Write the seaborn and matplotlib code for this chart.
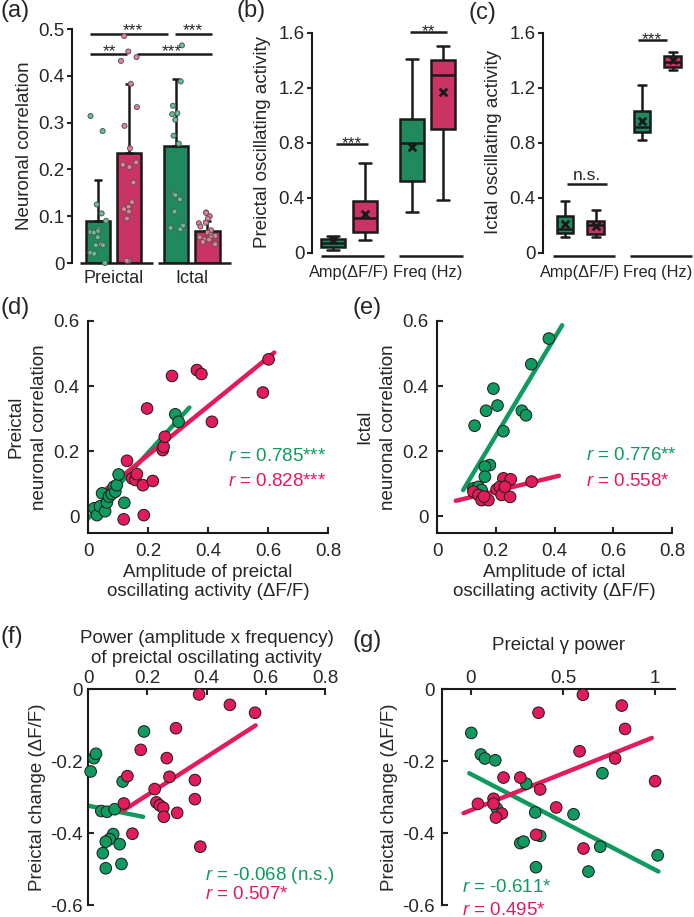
import numpy as np
import pandas as pd
import matplotlib
matplotlib.use('Agg')
import matplotlib.pyplot as plt
from matplotlib.ticker import FuncFormatter
import seaborn as sns

sns.set_style('ticks')
plt.rcParams['font.family'] = ['Liberation Sans', 'DejaVu Sans']
plt.rcParams['mathtext.fontset'] = 'custom'
plt.rcParams['mathtext.rm'] = 'Liberation Sans'
plt.rcParams['mathtext.it'] = 'Liberation Sans:italic'
plt.rcParams['axes.unicode_minus'] = False
plt.rcParams['font.size'] = 13.5

GREEN = '#0f9a60'
RED = '#e31b5b'
GREEN_DOT = '#5fc494'
RED_DOT = '#f07b96'
INK = '#1a1a1a'

groups = ['green', 'red']

# ---------------- (a) neuronal correlation
phases = ['Preictal', 'Ictal']
a_bar_phase = ['Preictal', 'Preictal', 'Ictal', 'Ictal']
a_bar_group = ['green', 'red', 'green', 'red']
a_mean = [0.090, 0.235, 0.250, 0.068]
a_sd = [0.087, 0.148, 0.143, 0.022]
a_pre_green = [0.314, 0.282, 0.125, 0.106, 0.090, 0.072, 0.068, 0.066, 0.065,
               0.055, 0.040, 0.038, 0.038, 0.022, 0.020, 0.0]
a_pre_red = [0.485, 0.452, 0.440, 0.432, 0.383, 0.333, 0.293, 0.245, 0.215, 0.210,
             0.205, 0.172, 0.130, 0.120, 0.115, 0.110, 0.095, 0.005, 0.005]
a_ict_green = [0.465, 0.388, 0.336, 0.320, 0.318, 0.306, 0.272, 0.255, 0.147,
               0.145, 0.136, 0.110, 0.080, 0.075, 0.072]
a_ict_red = [0.108, 0.107, 0.100, 0.095, 0.086, 0.085, 0.078, 0.070, 0.065, 0.060,
             0.058, 0.055, 0.055, 0.050, 0.050, 0.045, 0.042, 0.040]

# ---------------- (b) / (c) box summaries: whisker low, q1, median, q3, whisker high
measures = ['Amp(ΔF/F)', 'Freq (Hz)']
b_amp_green = [0.024, 0.044, 0.073, 0.100, 0.120]
b_amp_red = [0.097, 0.153, 0.255, 0.380, 0.655]
b_freq_green = [0.298, 0.521, 0.800, 0.977, 1.410]
b_freq_red = [0.388, 0.900, 1.297, 1.400, 1.503]
b_means = [0.097, 0.280, 0.768, 1.170]   # amp-green, amp-red, freq-green, freq-red

c_amp_green = [0.116, 0.145, 0.175, 0.270, 0.375]
c_amp_red = [0.114, 0.138, 0.200, 0.230, 0.310]
c_freq_green = [0.824, 0.882, 0.914, 1.035, 1.220]
c_freq_red = [1.330, 1.353, 1.390, 1.430, 1.460]
c_means = [0.213, 0.194, 0.962, 1.400]

# ---------------- (d) preictal amplitude vs correlation
d_green_x = [0.021, 0.030, 0.040, 0.047, 0.057, 0.063, 0.070, 0.079, 0.086, 0.091,
             0.096, 0.102, 0.121, 0.291, 0.302]
d_green_y = [0.024, 0.003, 0.030, 0.070, 0.015, 0.042, 0.060, 0.068, 0.090, 0.075,
             0.095, 0.128, 0.041, 0.313, 0.290]
d_red_x = [0.119, 0.130, 0.147, 0.158, 0.163, 0.183, 0.186, 0.216, 0.197, 0.249,
           0.252, 0.256, 0.280, 0.363, 0.378, 0.413, 0.583, 0.602]
d_red_y = [-0.010, 0.170, 0.116, 0.111, 0.129, 0.095, 0.003, 0.108, 0.331, 0.203,
           0.213, 0.244, 0.431, 0.449, 0.437, 0.290, 0.380, 0.482]
d_fit_green_x, d_fit_green_y = [-0.009, 0.338], [-0.017, 0.334]
d_fit_red_x, d_fit_red_y = [0.054, 0.621], [0.078, 0.503]

# ---------------- (e) ictal amplitude vs correlation
e_green_x = [0.381, 0.321, 0.192, 0.206, 0.167, 0.289, 0.303, 0.128, 0.226, 0.180,
             0.163, 0.163, 0.124, 0.141, 0.152]
e_green_y = [0.546, 0.467, 0.392, 0.340, 0.324, 0.324, 0.310, 0.278, 0.261, 0.157,
             0.152, 0.121, 0.085, 0.090, 0.080]
e_red_x = [0.322, 0.226, 0.251, 0.124, 0.141, 0.152, 0.175, 0.203, 0.214, 0.220,
           0.231, 0.249, 0.160]
e_red_y = [0.106, 0.116, 0.113, 0.075, 0.065, 0.049, 0.049, 0.082, 0.090, 0.065,
           0.090, 0.059, 0.060]
e_fit_green_x, e_fit_green_y = [0.089, 0.426], [0.080, 0.587]
e_fit_red_x, e_fit_red_y = [0.064, 0.415], [0.047, 0.124]

# ---------------- (f) preictal power vs preictal change
f_green_x = [0.009, 0.020, 0.027, 0.189, 0.117, 0.045, 0.064, 0.090, 0.085, 0.073,
             0.060, 0.050, 0.107, 0.060, 0.113]
f_green_y = [-0.229, -0.192, -0.180, -0.118, -0.257, -0.339, -0.341, -0.334, -0.403,
             -0.417, -0.424, -0.456, -0.431, -0.498, -0.486]
f_red_x = [0.375, 0.479, 0.564, 0.297, 0.178, 0.266, 0.275, 0.133, 0.225, 0.121,
           0.231, 0.242, 0.254, 0.256, 0.301, 0.361, 0.361, 0.150, 0.379]
f_red_y = [-0.015, -0.044, -0.066, -0.109, -0.169, -0.192, -0.244, -0.242, -0.278,
           -0.318, -0.315, -0.323, -0.330, -0.355, -0.344, -0.253, -0.306, -0.402, -0.438]
f_fit_green_x, f_fit_green_y = [0.0, 0.186], [-0.324, -0.355]
f_fit_red_x, f_fit_red_y = [0.118, 0.566], [-0.338, -0.101]

# ---------------- (g) preictal gamma power vs preictal change
g_green_x = [0.002, 0.054, 0.076, 0.132, 0.300, 0.141, 0.349, 0.376, 0.268, 0.286,
             0.353, 0.638, 0.702, 0.714, 0.557, 1.014]
g_green_y = [-0.122, -0.182, -0.193, -0.198, -0.263, -0.332, -0.343, -0.408, -0.428,
             -0.424, -0.495, -0.507, -0.438, -0.234, -0.348, -0.462]
g_red_x = [0.608, 0.819, 0.837, 0.367, 0.590, 0.783, 1.000, 0.177, 0.268, 0.376,
           0.463, 0.038, 0.123, 0.123, 0.168, 0.136, 0.354, 0.611]
g_red_y = [-0.016, -0.046, -0.111, -0.066, -0.173, -0.193, -0.256, -0.246, -0.246,
           -0.279, -0.329, -0.319, -0.305, -0.319, -0.346, -0.357, -0.405, -0.443]
g_fit_green_x, g_fit_green_y = [-0.009, 1.018], [-0.234, -0.507]
g_fit_red_x, g_fit_red_y = [-0.040, 0.982], [-0.345, -0.136]


W, H = 694, 917
fig = plt.figure(figsize=(W / 100, H / 100), dpi=100)


def add_ax(left, top, right, bottom):
    return fig.add_axes([left / W, 1 - bottom / H, (right - left) / W, (bottom - top) / H])


fmt = FuncFormatter(lambda v, p: '0' if abs(v) < 1e-9 else f'{v:g}')


def style_spines(ax):
    for s in ax.spines.values():
        s.set_linewidth(1.5)
        s.set_color(INK)


def sig(ax, x0, x1, y, text, tx, dy=-1):
    ax.plot([x0, x1], [y, y], color=INK, lw=1.8, clip_on=False, solid_capstyle='butt')
    ax.annotate(text, (tx, y), xytext=(0, dy), textcoords='offset points',
                ha='center', va='baseline', fontsize=12.5, annotation_clip=False)


# ======== (a)
ax = add_ax(72, 29, 237, 263)
bars = pd.DataFrame({'phase': a_bar_phase, 'group': a_bar_group, 'value': a_mean})
sns.barplot(data=bars, x='phase', y='value', hue='group', order=phases, hue_order=groups,
            palette=[GREEN, RED], width=0.8, gap=0.22, edgecolor=INK, linewidth=1.8,
            errorbar=None, legend=False, ax=ax)
rects = sorted(ax.patches, key=lambda r: r.get_x())
cx = [r.get_x() + r.get_width() / 2 for r in rects]
tops = [r.get_height() for r in rects]
ax.errorbar(cx, tops, yerr=[np.zeros(len(a_sd)), a_sd], fmt='none', ecolor=INK,
            elinewidth=1.8, capsize=3, capthick=1.8, zorder=2)

dot_sets = [('Preictal', 'green', a_pre_green), ('Preictal', 'red', a_pre_red),
            ('Ictal', 'green', a_ict_green), ('Ictal', 'red', a_ict_red)]
dots = pd.DataFrame([(p, g, v) for p, g, vals in dot_sets for v in vals],
                    columns=['phase', 'group', 'value'])
np.random.seed(7)
sns.stripplot(data=dots, x='phase', y='value', hue='group', order=phases, hue_order=groups,
              palette=[GREEN_DOT, RED_DOT], dodge=True, jitter=0.22, size=3.6,
              edgecolor='gray', linewidth=0.7, legend=False, clip_on=False, zorder=3, ax=ax)
for i in range(len(phases)):
    ax.plot([i - 0.43, i + 0.5], [0, 0], color=INK, lw=1.8, clip_on=False,
            solid_capstyle='butt')
sig(ax, -0.30, 0.70, 0.490, '***', 0.25)
sig(ax, 0.79, 1.26, 0.490, '***', 1.02)
sig(ax, -0.30, 0.17, 0.446, '**', -0.05)
sig(ax, 0.30, 1.26, 0.446, '***', 0.75)
sns.despine(ax=ax, bottom=True)
ax.set_xlim(-0.53, 1.578)
ax.set_ylim(0, 0.5)
ax.set_yticks([0, 0.1, 0.2, 0.3, 0.4, 0.5])
ax.yaxis.set_major_formatter(fmt)
ax.tick_params(axis='y', direction='out', length=3.5, width=1.5, pad=2)
ax.tick_params(axis='x', length=0, pad=5, labelsize=13)
ax.set_xlabel('')
ax.set_ylabel('Neuronal correlation', labelpad=4)
style_spines(ax)


# ======== (b) and (c)
def box_panel(ax, boxes, means, xlim, gap, ylabel):
    rows = [(m, g, v) for m, g, vals in boxes for v in vals]
    df = pd.DataFrame(rows, columns=['measure', 'group', 'value'])
    sns.boxplot(data=df, x='measure', y='value', hue='group', order=measures,
                hue_order=groups, palette=[GREEN, RED], whis=(0, 100), width=0.8,
                gap=gap, linewidth=1.8, linecolor=INK, legend=False, ax=ax)
    mdf = pd.DataFrame({'measure': [m for m, g, v in boxes],
                        'group': [g for m, g, v in boxes], 'value': means})
    sns.stripplot(data=mdf, x='measure', y='value', hue='group', order=measures,
                  hue_order=groups, palette=[INK, INK], dodge=True, jitter=False,
                  marker='x', size=5.5, linewidth=2, edgecolor=INK, legend=False,
                  zorder=5, ax=ax)
    for i in range(len(measures)):
        ax.plot([i - 0.36, i + 0.45], [-0.025, -0.025], color=INK, lw=1.8,
                clip_on=False, solid_capstyle='butt')
    sns.despine(ax=ax, bottom=True)
    ax.spines['left'].set_bounds(0, 1.6)
    ax.set_xlim(*xlim)
    ax.set_ylim(-0.03, 1.65)
    ax.set_yticks([0, 0.4, 0.8, 1.2, 1.6])
    ax.yaxis.set_major_formatter(fmt)
    ax.tick_params(axis='y', direction='out', length=3.5, width=1.5, pad=2)
    ax.tick_params(axis='x', length=0, pad=6, labelsize=11.8)
    ax.set_xlabel('')
    ax.set_ylabel(ylabel, labelpad=5)
    style_spines(ax)


ax = add_ax(312, 26, 462, 257)
box_panel(ax, [(measures[0], 'green', b_amp_green), (measures[0], 'red', b_amp_red),
               (measures[1], 'green', b_freq_green), (measures[1], 'red', b_freq_red)],
          b_means, (-0.47, 1.44), 0.24, 'Preictal oscillating activity')
sig(ax, -0.16, 0.24, 0.79, '***', 0.04, dy=-3)
sig(ax, 0.78, 1.25, 1.61, '**', 1.015, dy=-3)

ax = add_ax(543, 26, 689, 257)
box_panel(ax, [(measures[0], 'green', c_amp_green), (measures[0], 'red', c_amp_red),
               (measures[1], 'green', c_freq_green), (measures[1], 'red', c_freq_red)],
          c_means, (-0.486, 1.41), 0.45, 'Ictal oscillating activity')
sig(ax, -0.17, 0.345, 0.504, 'n.s.', 0.09, dy=2.5)
sig(ax, 0.75, 1.13, 1.55, '***', 0.93, dy=-3)


# ======== (d)-(g)
def corr_panel(ax, gx, gy, rx, ry, fgx, fgy, frx, fry):
    pts = pd.DataFrame({'x': gx + rx, 'y': gy + ry,
                        'group': ['green'] * len(gx) + ['red'] * len(rx)})
    fits = pd.DataFrame({'x': fgx + frx, 'y': fgy + fry,
                         'group': ['green'] * len(fgx) + ['red'] * len(frx)})
    sns.lineplot(data=fits, x='x', y='y', hue='group', hue_order=groups,
                 palette=[GREEN, RED], linewidth=3.2, estimator=None, sort=False,
                 legend=False, zorder=2, ax=ax)
    sns.scatterplot(data=pts, x='x', y='y', hue='group', hue_order=groups,
                    palette=[GREEN, RED], s=70, edgecolor=INK, linewidth=0.7,
                    legend=False, clip_on=False, zorder=3, ax=ax)
    ax.xaxis.set_major_formatter(fmt)
    ax.yaxis.set_major_formatter(fmt)
    style_spines(ax)


def r_text(ax, x, y, text, color, va='center'):
    ax.text(x, y, text, color=color, ha='left', va=va, fontsize=13.5)


# (d)
ax = add_ax(88, 321, 328, 533)
corr_panel(ax, d_green_x, d_green_y, d_red_x, d_red_y,
           d_fit_green_x, d_fit_green_y, d_fit_red_x, d_fit_red_y)
sns.despine(ax=ax)
ax.set_xlim(0, 0.8)
ax.set_ylim(-0.052, 0.6)
ax.set_xticks([0, 0.2, 0.4, 0.6, 0.8])
ax.set_yticks([0, 0.2, 0.4, 0.6])
ax.tick_params(direction='in', length=4, width=1.5)
ax.tick_params(axis='x', pad=7)
ax.tick_params(axis='y', pad=6)
ax.set_xlabel('Amplitude of preictal\noscillating activity (ΔF/F)', linespacing=1.15, labelpad=3)
ax.set_ylabel('Preictal\nneuronal correlation', linespacing=1.5, labelpad=4)
r_text(ax, 0.467, 0.182, '$r$ = 0.785***', GREEN)
r_text(ax, 0.467, 0.106, '$r$ = 0.828***', RED)

# (e)
ax = add_ax(437, 321, 672, 533)
corr_panel(ax, e_green_x, e_green_y, e_red_x, e_red_y,
           e_fit_green_x, e_fit_green_y, e_fit_red_x, e_fit_red_y)
sns.despine(ax=ax)
ax.set_xlim(0, 0.8)
ax.set_ylim(-0.052, 0.6)
ax.set_xticks([0, 0.2, 0.4, 0.6, 0.8])
ax.set_yticks([0, 0.2, 0.4, 0.6])
ax.tick_params(direction='in', length=4, width=1.5)
ax.tick_params(axis='x', pad=7)
ax.tick_params(axis='y', pad=6)
ax.set_xlabel('Amplitude of ictal\noscillating activity (ΔF/F)', linespacing=1.15, labelpad=3)
ax.set_ylabel('Ictal\nneuronal correlation', linespacing=1.5, labelpad=4)
r_text(ax, 0.507, 0.185, '$r$ = 0.776**', GREEN)
r_text(ax, 0.507, 0.106, '$r$ = 0.558*', RED)

# (f)
ax = add_ax(88, 689, 325, 905)
corr_panel(ax, f_green_x, f_green_y, f_red_x, f_red_y,
           f_fit_green_x, f_fit_green_y, f_fit_red_x, f_fit_red_y)
sns.despine(ax=ax, top=False, bottom=True)
ax.xaxis.tick_top()
ax.xaxis.set_label_position('top')
ax.set_xlim(0, 0.8)
ax.set_ylim(-0.6, 0)
ax.set_xticks([0, 0.2, 0.4, 0.6, 0.8])
ax.set_yticks([0, -0.2, -0.4, -0.6])
ax.tick_params(direction='in', length=4, width=1.5)
ax.tick_params(axis='x', pad=1.5)
ax.tick_params(axis='y', pad=4)
ax.set_xlabel('Power (amplitude x frequency)\nof preictal oscillating activity',
              linespacing=1.25, labelpad=5)
ax.set_ylabel('Preictal change (ΔF/F)', labelpad=3)
r_text(ax, 0.395, -0.517, '$r$ = -0.068 (n.s.)', GREEN)
r_text(ax, 0.395, -0.572, '$r$ = 0.507*', RED)

# (g)
ax = add_ax(442, 689, 675, 905)
corr_panel(ax, g_green_x, g_green_y, g_red_x, g_red_y,
           g_fit_green_x, g_fit_green_y, g_fit_red_x, g_fit_red_y)
sns.despine(ax=ax, top=False, bottom=True)
ax.xaxis.tick_top()
ax.xaxis.set_label_position('top')
ax.set_xlim(-0.157, 1.108)
ax.set_ylim(-0.6, 0)
ax.set_xticks([0, 0.5, 1])
ax.set_yticks([0, -0.2, -0.4, -0.6])
ax.tick_params(direction='in', length=4, width=1.5)
ax.tick_params(axis='x', pad=1.5)
ax.tick_params(axis='y', pad=5)
ax.set_xlabel('Preictal γ power', labelpad=14)
ax.set_ylabel('Preictal change (ΔF/F)', labelpad=3)
r_text(ax, -0.049, -0.551, '$r$ = -0.611*', GREEN)
r_text(ax, -0.049, -0.627, '$r$ = 0.495*', RED, va='baseline')

# panel letters
for letter, px, py in [('(a)', 0, 0), ('(b)', 236, 0), ('(c)', 469, 2), ('(d)', 0, 297),
                       ('(e)', 352, 297), ('(f)', 0, 626), ('(g)', 352, 630)]:
    fig.text(px / W, 1 - py / H, letter, fontsize=17, ha='left', va='top')

fig.savefig('out.png', dpi=100)
